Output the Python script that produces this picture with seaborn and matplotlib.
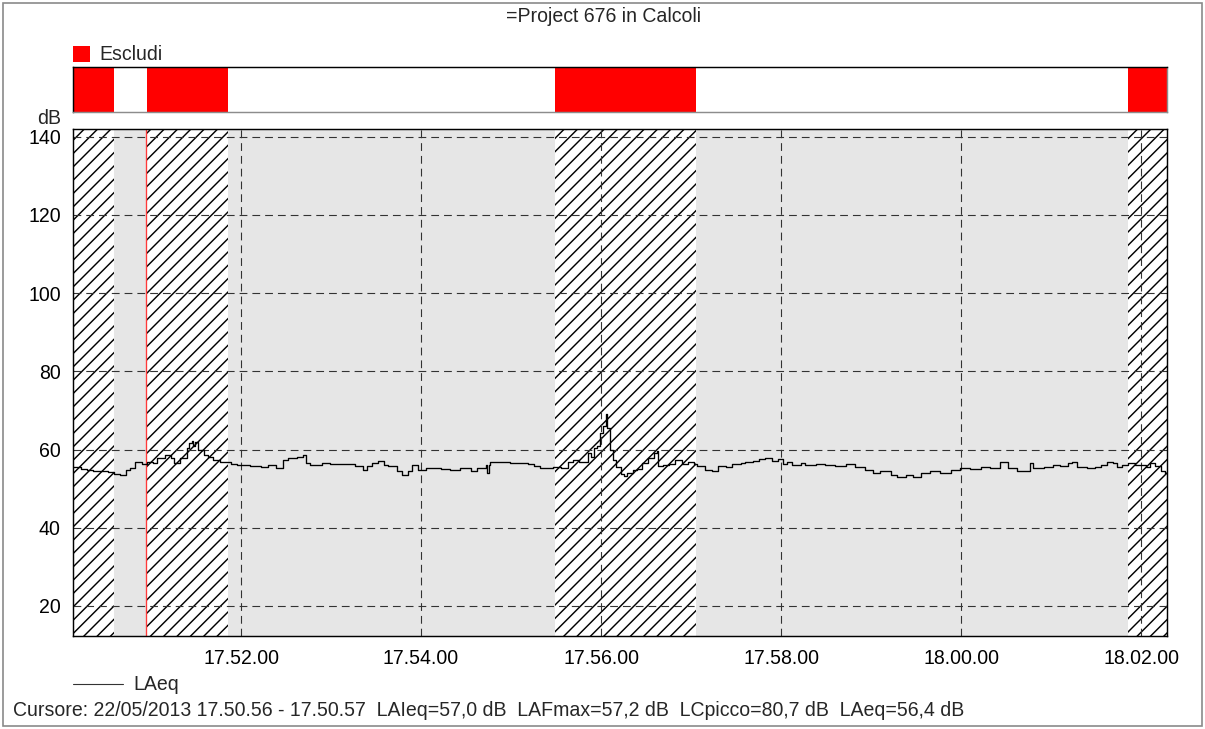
import matplotlib
matplotlib.use("Agg")
import matplotlib.pyplot as plt
from matplotlib.ticker import FixedLocator, FuncFormatter
from matplotlib.patches import Rectangle
from matplotlib.lines import Line2D
import pandas as pd
import seaborn as sns

# ---- measurement data (seconds after 17.50.00) ----
start_clock = (17, 50, 0)
t_begin, t_end = 8, 737.3

times = [8, 13, 17, 21, 26, 31, 35, 39, 43, 46, 49, 54, 57, 61, 64, 69, 73, 75, 79, 84,
         85, 87, 88, 89, 91, 95, 98, 101, 106, 113, 117, 121, 126, 133, 138, 143, 146, 148, 151, 157,
         161, 163, 166, 174, 179, 187, 196, 201, 204, 207, 211, 215, 218, 224, 227, 231, 234, 238, 243, 249,
         253, 259, 266, 273, 277, 283, 284, 285, 286, 293, 299, 304, 311, 315, 319, 328, 333, 338, 341, 345,
         347, 351, 353, 355, 357, 359, 361, 363, 364, 366, 368, 370, 373, 375, 377, 381, 384, 387, 391, 395,
         397, 398, 401, 405, 409, 414, 418, 422, 424, 429, 434, 438, 443, 447, 453, 456, 461, 465, 469, 474,
         478, 481, 484, 487, 493, 496, 503, 509, 516, 523, 529, 536, 541, 546, 553, 557, 563, 568, 573, 579,
         586, 593, 599, 606, 613, 619, 626, 631, 637, 643, 646, 648, 655, 661, 666, 671, 674, 677, 684, 689,
         693, 697, 701, 704, 707, 711, 716, 719, 723, 726, 729, 733, 736]

laeq = [55.5, 55.0, 54.7, 54.6, 54.4, 54.3, 53.8, 53.6, 54.8, 55.2, 56.9, 56.3, 56.9, 56.6, 57.8, 58.6, 57.9, 56.5, 57.8, 60.3,
        61.8, 62.2, 61.0, 61.9, 59.9, 58.6, 58.0, 57.4, 56.7, 56.3, 56.0, 56.1, 55.8, 55.6, 56.0, 55.4, 55.2, 57.4, 57.8, 58.2,
        58.5, 56.5, 56.1, 56.5, 56.2, 56.3, 55.7, 54.8, 55.7, 56.5, 57.1, 56.1, 55.7, 54.4, 53.6, 54.4, 56.0, 54.8, 55.2, 55.4,
        55.0, 54.8, 55.4, 54.6, 55.2, 56.1, 54.0, 56.1, 56.7, 56.9, 56.6, 56.5, 56.2, 55.8, 55.2, 55.6, 55.3, 56.9, 57.4, 56.8,
        56.9, 59.1, 58.0, 60.3, 60.8, 64.2, 66.0, 69.0, 65.5, 60.0, 57.4, 55.6, 53.8, 53.3, 54.0, 54.8, 55.0, 56.6, 57.9, 59.1,
        59.6, 55.7, 56.1, 56.4, 57.3, 56.3, 56.9, 56.4, 55.7, 54.8, 54.5, 55.7, 55.5, 56.3, 56.6, 56.8, 57.0, 57.6, 57.8, 57.1,
        57.5, 56.3, 56.8, 56.0, 56.5, 56.1, 56.3, 56.0, 55.8, 56.4, 55.5, 54.8, 54.0, 54.5, 53.6, 53.0, 53.5, 53.0, 54.0, 54.6,
        54.0, 54.8, 55.3, 55.0, 55.5, 55.2, 56.9, 55.2, 54.6, 54.4, 56.5, 55.2, 55.6, 56.1, 55.9, 56.5, 56.8, 55.6, 55.2, 55.5,
        56.1, 56.9, 56.5, 55.6, 56.0, 56.5, 56.0, 56.1, 55.6, 56.5, 55.8, 54.4, 54.0]

# excluded intervals ("Escludi")
excl_start = [8, 57, 329, 711]
excl_end = [35, 111, 423, 737.3]

cursor_t = 56.5

y_ticks = [20, 40, 60, 80, 100, 120, 140]
x_ticks = [120, 240, 360, 480, 600, 720]

title_text = "=Project 676 in Calcoli"
cursor_text = ("Cursore: 22/05/2013 17.50.56 - 17.50.57  LAIeq=57,0 dB  LAFmax=57,2 dB  "
               "LCpicco=80,7 dB  LAeq=56,4 dB")

# ---- styling ----
sns.set_style("white")
plt.rcParams["font.family"] = ["Liberation Sans", "DejaVu Sans"]
plt.rcParams["hatch.linewidth"] = 1.3
plt.rcParams["lines.scale_dashes"] = False

W, H, DPI = 1205, 729, 80
FS = 17.6


def fx(px):
    return px / W


def fy(py):
    return 1 - py / H


def clock_label(sec, _pos=None):
    total = start_clock[0] * 3600 + start_clock[1] * 60 + start_clock[2] + int(round(sec))
    h, rem = divmod(total, 3600)
    m, s = divmod(rem, 60)
    return f"{h:02d}.{m:02d}.{s:02d}"


fig = plt.figure(figsize=(W / DPI, H / DPI), dpi=DPI)
fig.patch.set_facecolor("white")

# main time-history axes
ax = fig.add_axes([fx(73), fy(636), (1167 - 73) / W, (636 - 129) / H])
ax.set_facecolor("#e6e6e6")
ax.set_xlim(t_begin, t_end)
ax.set_ylim(12.3, 142.0)

for s, e in zip(excl_start, excl_end):
    ax.axvspan(s, e, facecolor="white", edgecolor="black", hatch="//", linewidth=0, zorder=1)

ax.set_axisbelow("line")
ax.xaxis.set_major_locator(FixedLocator(x_ticks))
ax.yaxis.set_major_locator(FixedLocator(y_ticks))
ax.xaxis.set_major_formatter(FuncFormatter(clock_label))
ax.grid(True, color="#333333", linestyle=(0, (7, 4.5)), linewidth=1.0)

ax.axvline(cursor_t, color="#ff3a3a", linewidth=1.2, zorder=2.2)

df = pd.DataFrame({"t": times + [t_end], "LAeq": laeq + [laeq[-1]]})
sns.lineplot(data=df, x="t", y="LAeq", estimator=None, drawstyle="steps-post",
             color="black", linewidth=1.2, ax=ax, legend=False, zorder=3)
ax.set_xlabel("")
ax.set_ylabel("")

for sp in ax.spines.values():
    sp.set_visible(True)
    sp.set_color("black")
    sp.set_linewidth(1.3)
ax.tick_params(axis="both", direction="out", length=8, width=1.0, color="black",
               labelsize=FS, labelcolor="black", pad=3)
ax.tick_params(axis="x", pad=4)

# exclusion band above the plot
bar_ax = fig.add_axes([fx(73), fy(112), (1167 - 73) / W, (112 - 67) / H])
bar_ax.set_xlim(t_begin, t_end)
bar_ax.set_ylim(0, 1)
bar_ax.set_facecolor("white")
for s, e in zip(excl_start, excl_end):
    bar_ax.axvspan(s, e, facecolor="#ff0000", edgecolor="none", linewidth=0)
bar_ax.set_xticks([])
bar_ax.set_yticks([])
for side, sp in bar_ax.spines.items():
    sp.set_visible(True)
    sp.set_linewidth(1.3)
    sp.set_color("black" if side in ("top", "left") else "#8c8c8c")

# texts and legend items
fig.text(fx(604), fy(17), title_text, ha="center", va="center", fontsize=FS)
fig.text(fx(61), fy(119), "dB", ha="right", va="center", fontsize=FS)

fig.add_artist(Rectangle((fx(73), fy(62)), (90 - 73) / W, (62 - 46) / H,
                         transform=fig.transFigure, facecolor="#ff0000", edgecolor="none"))
fig.text(fx(99), fy(54), "Escludi", ha="left", va="center", fontsize=FS)

fig.add_artist(Line2D([fx(73), fx(123)], [fy(684), fy(684)], transform=fig.transFigure,
                      color="#333333", linewidth=1.0))
fig.text(fx(133), fy(684), "LAeq", ha="left", va="center", fontsize=FS)

fig.text(fx(13), fy(710), cursor_text, ha="left", va="center", fontsize=FS)

# outer frame
fig.add_artist(Rectangle((fx(3), fy(726)), (1202 - 3) / W, (726 - 3) / H,
                         transform=fig.transFigure, fill=False, edgecolor="#8a8a8a", linewidth=1.5))

fig.savefig("out.png", dpi=DPI, facecolor="white")
